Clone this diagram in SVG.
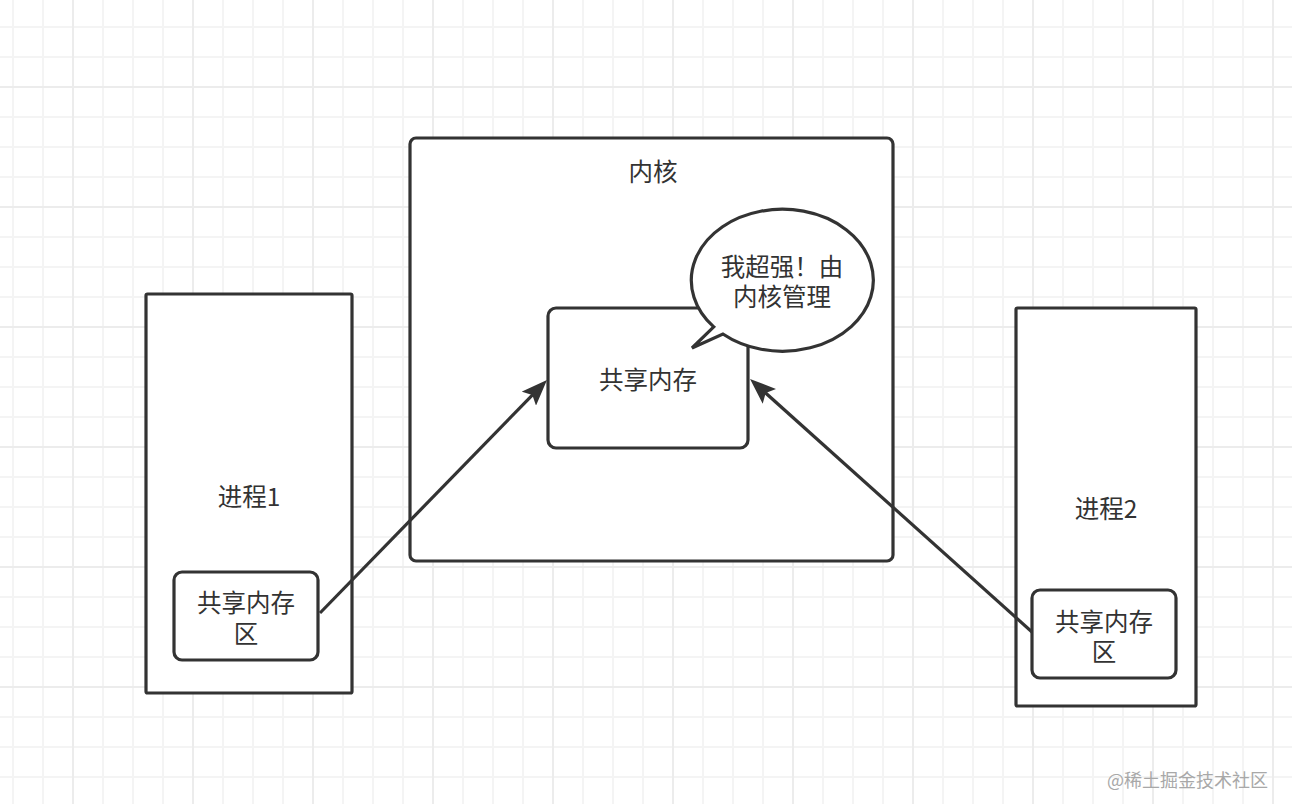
<svg xmlns="http://www.w3.org/2000/svg" width="1292" height="804" viewBox="0 0 1292 804">
  <defs>
    <pattern id="gridMinor" patternUnits="userSpaceOnUse" x="12" y="26" width="30" height="30">
      <rect x="0" y="0" width="2" height="30" fill="#f4f4f4"/>
      <rect x="0" y="0" width="30" height="2" fill="#f4f4f4"/>
    </pattern>
    <pattern id="gridMajor" patternUnits="userSpaceOnUse" x="72" y="86" width="120" height="120">
      <rect x="0" y="0" width="2" height="120" fill="#ececec"/>
      <rect x="0" y="0" width="120" height="2" fill="#ececec"/>
    </pattern>
    <marker id="arrow" markerUnits="userSpaceOnUse" viewBox="0 0 26 20" refX="20" refY="10" markerWidth="26" markerHeight="20" orient="auto">
      <path d="M0,0 L26,10 L0,20 L5,10 Z" fill="#333333"/>
    </marker>
    <style>
      .box { fill: #ffffff; stroke: #333333; stroke-width: 3.2; }
      .label { font-family: "Noto Sans CJK SC", "Noto Sans", sans-serif; font-size: 24.5px; fill: #333333; text-anchor: middle; }
      .conn { fill: none; stroke: #333333; stroke-width: 3.2; marker-end: url(#arrow); }
      .wm { font-family: "Noto Sans CJK SC", "Noto Sans", sans-serif; font-size: 18px; fill: #a8a8a8; text-anchor: end; }
    </style>
  </defs>

  <rect x="0" y="0" width="1292" height="804" fill="#ffffff"/>
  <rect x="0" y="0" width="1292" height="804" fill="url(#gridMinor)"/>
  <rect x="0" y="0" width="1292" height="804" fill="url(#gridMajor)"/>

  <g id="kernel">
    <rect class="box" x="410" y="138" width="483" height="423" rx="6"/>
    <text class="label" x="653" y="181">内核</text>
  </g>

  <g id="process1">
    <rect class="box" x="146" y="294" width="206" height="399" rx="1.5"/>
    <text class="label" x="249" y="506">进程1</text>
  </g>

  <g id="process2">
    <rect class="box" x="1016" y="308" width="180" height="398" rx="1.5"/>
    <text class="label" x="1106" y="518">进程2</text>
  </g>

  <g id="shm-kernel">
    <rect class="box" x="548" y="308" width="200" height="140" rx="8"/>
    <text class="label" x="648" y="389">共享内存</text>
  </g>

  <g id="bubble">
    <path class="box" d="M713.75,326.9 A91,71 0 1 1 722.9,334 L692,348 Z"/>
    <text class="label" x="782" y="276">我超强！由</text>
    <text class="label" x="782" y="306">内核管理</text>
  </g>

  <g id="shm-p1">
    <rect class="box" x="174" y="572" width="144" height="88" rx="8"/>
    <text class="label" x="246" y="612">共享内存</text>
    <text class="label" x="246" y="643">区</text>
  </g>

  <g id="shm-p2">
    <rect class="box" x="1032" y="590" width="144" height="88" rx="8"/>
    <text class="label" x="1104" y="631">共享内存</text>
    <text class="label" x="1104" y="661">区</text>
  </g>

  <g id="connectors">
    <path class="conn" d="M320,613 L542.8,384.3"/>
    <path class="conn" d="M1032,632 L754.5,383"/>
  </g>

  <text class="wm" x="1268" y="787">@稀土掘金技术社区</text>
</svg>
